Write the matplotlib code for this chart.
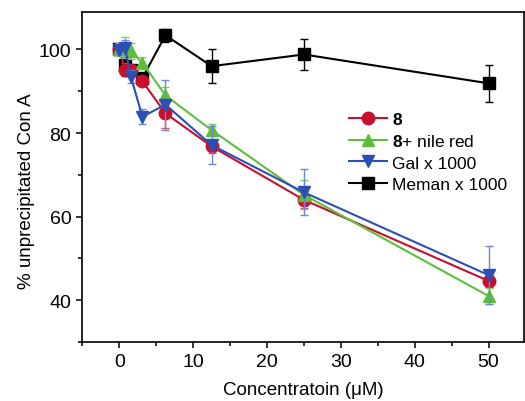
import matplotlib
matplotlib.use("Agg")
import matplotlib.pyplot as plt
from matplotlib.ticker import MultipleLocator
from matplotlib.lines import Line2D

plt.rcParams['font.family'] = ['Liberation Sans', 'DejaVu Sans']
plt.rcParams['mathtext.fontset'] = 'custom'
plt.rcParams['mathtext.bf'] = 'Liberation Sans:bold'
plt.rcParams['mathtext.rm'] = 'Liberation Sans'

# konsentrasi (uM)
conc = [0, 0.78, 1.56, 3.125, 6.25, 12.5, 25, 50]

y_8 = [100, 95.2, 95.0, 92.4, 84.7, 76.8, 64.0, 44.6]
e_8 = [1.0, 1.5, 1.0, 1.0, 3.5, 1.5, 2.0, 1.5]

y_nile = [100, 100.5, 99.6, 96.8, 89.0, 80.7, 65.2, 41.0]
e_nile = [1.5, 2.5, 2.0, 1.5, 2.0, 1.5, 3.5, 2.0]

y_gal = [99.8, 100.3, 93.5, 83.9, 86.8, 77.1, 65.8, 46.0]
e_gal = [1.0, 2.0, 1.5, 1.8, 6.0, 4.5, 5.5, 7.0]

y_meman = [100, 96.2, 95.2, 93.2, 103.4, 96.0, 98.8, 91.9]
e_meman = [1.0, 1.0, 1.0, 1.0, 1.5, 4.0, 3.7, 4.5]

# (data, error, warna garis, warna errorbar, marker, label, zorder)
series = [
    (y_8, e_8, "#c8102e", "#d9535f", "o", r"$\mathbf{8}$", 4),
    (y_nile, e_nile, "#5cbf3c", "#7fd062", "^", r"$\mathbf{8}$+ nile red", 5),
    (y_gal, e_gal, "#2b4fb5", "#6f86d6", "v", "Gal x 1000", 6),
    (y_meman, e_meman, "black", "black", "s", "Meman x 1000", 3),
]

fig = plt.figure(figsize=(5.25, 4.02), dpi=100)
ax = fig.add_axes([0.157, 0.147, 0.841, 0.821])

handles = []
for y, e, c, ec, m, lab, z in series:
    ax.errorbar(conc, y, yerr=e, color=c, ecolor=ec, elinewidth=1.0,
                capsize=3, capthick=1.0, marker=m, markersize=9,
                linewidth=1.5, zorder=z)
    handles.append(Line2D([], [], color=c, marker=m, markersize=9,
                          linewidth=1.5, label=lab))

ax.set_xlim(-5, 54.8)
ax.set_ylim(30, 109)
ax.xaxis.set_major_locator(MultipleLocator(10))
ax.xaxis.set_minor_locator(MultipleLocator(5))
ax.yaxis.set_major_locator(MultipleLocator(20))
ax.yaxis.set_minor_locator(MultipleLocator(10))
ax.tick_params(which='both', direction='out', width=1.1, labelsize=14,
               top=False, right=False)
ax.tick_params(which='major', length=4.5)
ax.tick_params(which='minor', length=3)
for s in ax.spines.values():
    s.set_linewidth(1.2)

ax.set_xlabel("Concentratoin (\u03bcM)", fontsize=13.5, labelpad=8)
ax.set_ylabel("% unprecipitated Con A", fontsize=13.5)
ax.yaxis.set_label_coords(-0.108, 0.46)

ax.legend(handles=handles, loc='upper left', bbox_to_anchor=(0.588, 0.72),
          frameon=False, fontsize=12.5, handlelength=2.2, handletextpad=0.3,
          labelspacing=0.35, borderaxespad=0)

fig.savefig("out.png", dpi=100)
